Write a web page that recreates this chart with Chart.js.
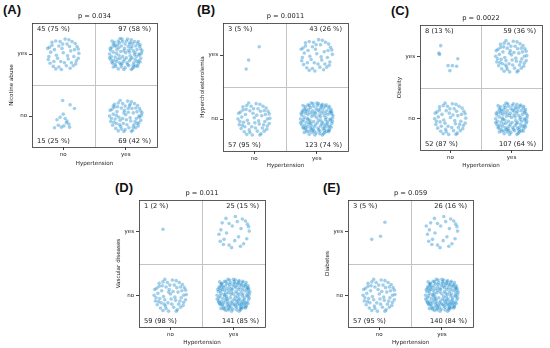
<html><head></head>
<body style="margin:0;background:#fff">
<script src="https://cdn.jsdelivr.net/npm/chart.js"></script>
<div id="wrap" style="position:relative;width:550px;height:348px;overflow:hidden;background:#fff"></div>
<script>
// panel texts
const letters = ['(A)', '(B)', '(C)', '(D)', '(E)'];
const yTitles = ['Nicotine abuse', 'Hypercholesterolemia', 'Obesity', 'Vascular diseases', 'Diabetes'];
const pTexts = ['p = 0.034', 'p = 0.0011', 'p = 0.0022', 'p = 0.011', 'p = 0.059'];
const xTitle = 'Hypertension';
const cats = ['no', 'yes'];

// counts per cell: [x no / y yes, x yes / y yes, x no / y no, x yes / y no]
const countsA = [45, 97, 15, 69];
const countsB = [3, 43, 57, 123];
const countsC = [8, 59, 52, 107];
const countsD = [1, 25, 59, 141];
const countsE = [3, 26, 57, 140];
const pctA = [75, 58, 25, 42];
const pctB = [5, 26, 95, 74];
const pctC = [13, 36, 87, 64];
const pctD = [2, 15, 98, 85];
const pctE = [5, 16, 95, 84];

// jitter offsets (first n used per cell)
const jitter = [
 [0.12,0.05],[-0.18,0.14],[-0.07,-0.21],[0.21,-0.11],[0.03,0.24],[-0.23,-0.04],[-0.15,-0.12],[0.16,-0.19],
 [0.22,0.12],[-0.02,0.09],[-0.11,-0.02],[0.08,-0.08],[0.14,0.20],[-0.20,0.03],[-0.03,-0.25],[0.25,0.01],
 [0.06,0.16],[-0.12,0.21],[-0.21,-0.15],[0.11,-0.23],[0.19,0.17],[-0.07,0.13],[-0.16,-0.20],[0.02,-0.14],
 [0.24,0.08],[-0.25,0.09],[-0.09,-0.07],[0.17,-0.04],[0.00,0.02],[-0.14,0.07],[0.05,-0.19],[0.13,-0.14],
 [0.09,0.23],[-0.05,0.20],[-0.24,-0.09],[0.20,-0.16],[0.18,0.07],[-0.18,0.19],[-0.12,-0.24],[0.07,-0.03],
 [-0.01,0.16],[-0.22,0.11],[-0.04,-0.12],[0.24,-0.07],[0.10,0.12],[-0.09,0.25],[-0.17,-0.05],[0.15,-0.09],
 [0.04,0.06],[-0.26,0.00],[-0.08,-0.17],[0.09,-0.25],[0.21,0.00],[-0.13,0.15],[-0.19,-0.10],[0.01,-0.06],
 [0.16,0.13],[-0.03,0.05],[-0.10,-0.14],[0.22,-0.02],[0.07,0.19],[-0.20,0.16],[-0.05,-0.04],[0.12,-0.18],
 [0.26,0.05],[-0.15,0.01],[-0.01,-0.22],[0.18,-0.12],[0.04,0.12],[-0.11,0.10],[-0.22,-0.13],[0.06,-0.11],
 [0.23,0.15],[-0.06,0.24],[-0.17,-0.17],[0.14,-0.01],[0.11,0.17],[-0.24,0.06],[-0.06,-0.16],[0.19,-0.20],
 [0.01,0.21],[-0.16,0.12],[-0.13,-0.08],[0.10,-0.06],[0.20,0.20],[-0.08,0.04],[-0.20,-0.21],[0.03,-0.17],
 [0.15,0.02],[-0.22,0.21],[-0.02,-0.09],[0.23,-0.13],[0.08,0.09],[-0.10,0.18],[-0.26,-0.06],[0.13,-0.21],
 [0.06,0.03],[-0.14,-0.01],[0.15,0.22],[-0.04,-0.19],[0.25,-0.04],[-0.18,0.09],[0.02,0.14],[-0.12,-0.19],
 [0.10,-0.15],[0.21,0.10],[-0.07,0.08],[-0.21,-0.01],[0.05,-0.23],[0.17,-0.07],[0.00,0.25],[-0.14,0.22],
 [-0.09,-0.11],[0.14,0.09],[-0.23,0.13],[0.03,-0.02],[0.20,-0.18],[-0.18,-0.14],[0.08,0.21],[-0.03,0.11],
 [0.12,-0.11],[-0.11,-0.05],[0.24,0.11],[-0.20,0.07],[0.04,-0.08],[-0.06,0.17],[0.18,0.15],[-0.15,-0.22],
 [0.09,0.01],[-0.01,-0.14],[0.22,0.04],[-0.12,0.03],[0.11,-0.20],[-0.08,-0.23],[0.16,-0.14],[-0.19,0.18],
 [0.02,0.19],[-0.23,-0.11],[0.13,0.16],[0.07,-0.14],[-0.04,0.01]
];
// sparse cells read point by point
const sparseA_noNo = [[-0.01,0.25],[0.11,0.18],[0.18,0.12],[0,0.03],[-0.05,-0.02],[-0.10,-0.06],[0.03,-0.04],
  [0.06,-0.08],[0.09,-0.13],[-0.08,-0.15],[-0.14,-0.19],[0.01,-0.16],[-0.03,-0.18],[0.10,-0.18],[0.05,-0.11]];
const sparseB_noYes = [[0.08,0.13],[-0.09,-0.08],[-0.13,-0.22]];
const sparseC_noYes = [[-0.16,0.17],[-0.19,0.05],[-0.18,0.03],[0.12,-0.04],[-0.04,-0.15],[0.03,-0.15],[0.10,-0.16],[-0.01,-0.23]];
const sparseD_noYes = [[-0.12,0.04]];
const sparseE_noYes = [[0.09,0.15],[0.02,-0.07],[-0.12,-0.12]];

const allCounts = [countsA, countsB, countsC, countsD, countsE];
const allPct = [pctA, pctB, pctC, pctD, pctE];
const sparse = [
  [null, null, sparseA_noNo, null],
  [sparseB_noYes, null, null, null],
  [sparseC_noYes, null, null, null],
  [sparseD_noYes, null, null, null],
  [sparseE_noYes, null, null, null]
];
const cellX = [0, 1, 0, 1];
const cellY = [1, 1, 0, 0];

// layout of each panel: canvas box and plot area inside it
const boxes = [
  {left: 0,   top: 0,   w: 180, h: 169, area: [32, 23, 157, 147]},
  {left: 185, top: 0,   w: 180, h: 171, area: [38, 23, 163, 151]},
  {left: 365, top: 0,   w: 185, h: 171, area: [55, 25, 177, 150]},
  {left: 90,  top: 172, w: 190, h: 176, area: [49, 28, 175, 155]},
  {left: 275, top: 172, w: 200, h: 176, area: [73, 28, 199, 155]}
];
const letterPos = [[3, 2], [197, 2], [391, 3], [115, 180], [323, 180]];

const FONT = "'DejaVu Sans', sans-serif";
const dotColor = 'rgba(30,140,205,0.42)';

const framePlugin = {
  id: 'frame',
  beforeDatasetsDraw(chart) {
    const {ctx, chartArea: a, scales: {x, y}} = chart;
    ctx.save();
    ctx.strokeStyle = '#c4c4c4';
    ctx.lineWidth = 1;
    ctx.beginPath();
    const mx = Math.round(x.getPixelForValue(0.5)) + 0.5;
    const my = Math.round(y.getPixelForValue(0.5)) + 0.5;
    ctx.moveTo(mx, a.top); ctx.lineTo(mx, a.bottom);
    ctx.moveTo(a.left, my); ctx.lineTo(a.right, my);
    ctx.stroke();
    ctx.restore();
  },
  afterDatasetsDraw(chart, args, opts) {
    const {ctx, chartArea: a} = chart;
    ctx.save();
    ctx.strokeStyle = '#333';
    ctx.lineWidth = 0.8;
    ctx.strokeRect(Math.round(a.left) + 0.5, Math.round(a.top) + 0.5,
      Math.round(a.right - a.left), Math.round(a.bottom - a.top));
    ctx.fillStyle = '#222';
    ctx.font = '6.7px ' + FONT;
    ctx.textBaseline = 'middle';
    ctx.textAlign = 'center';
    ctx.fillText(opts.title, (a.left + a.right) / 2, a.top - 6.5);
    const t = opts.cells;
    ctx.textAlign = 'left';
    ctx.fillText(t[0], a.left + 5, a.top + 6.5);
    ctx.fillText(t[2], a.left + 5, a.bottom - 6);
    ctx.textAlign = 'right';
    ctx.fillText(t[1], a.right - 6, a.top + 6.5);
    ctx.fillText(t[3], a.right - 6, a.bottom - 6);
    ctx.restore();
  }
};

const wrap = document.getElementById('wrap');
for (let p = 0; p < 5; p++) {
  const b = boxes[p];
  const lab = document.createElement('div');
  lab.textContent = letters[p];
  lab.style.cssText = 'position:absolute;font:bold 13px "Liberation Sans",Arial,sans-serif;color:#111;left:' +
    letterPos[p][0] + 'px;top:' + letterPos[p][1] + 'px';
  wrap.appendChild(lab);

  const cv = document.createElement('canvas');
  cv.width = b.w; cv.height = b.h;
  cv.style.cssText = 'position:absolute;left:' + b.left + 'px;top:' + b.top + 'px;width:' + b.w + 'px;height:' + b.h + 'px';
  wrap.appendChild(cv);

  const pts = [];
  const counts = allCounts[p];
  for (let c = 0; c < 4; c++) {
    const offs = sparse[p][c] || jitter.slice(0, counts[c]);
    offs.forEach(o => pts.push({x: cellX[c] + o[0], y: cellY[c] + o[1]}));
  }
  const cellText = counts.map((n, i) => n + ' (' + allPct[p][i] + ' %)');
  const a = b.area;

  new Chart(cv, {
    type: 'scatter',
    data: {
      datasets: [{
        data: pts,
        backgroundColor: dotColor,
        borderWidth: 0,
        pointRadius: 1.8,
        pointHoverRadius: 1.8
      }]
    },
    options: {
      responsive: false,
      animation: false,
      events: [],
      layout: {padding: {top: a[1], left: a[0] - 28, right: b.w - a[2], bottom: 0}},
      plugins: {
        legend: {display: false},
        tooltip: {enabled: false},
        frame: {title: pTexts[p], cells: cellText}
      },
      scales: {
        x: {
          type: 'linear', min: -0.5, max: 1.5,
          afterBuildTicks: s => { s.ticks = [{value: 0}, {value: 1}]; },
          afterFit: s => { s.height = b.h - a[3]; },
          ticks: {callback: v => cats[v], font: {family: FONT, size: 5.5}, color: '#222', padding: 1, maxRotation: 0},
          grid: {drawOnChartArea: false, drawTicks: true, tickLength: 3, tickColor: '#444'},
          border: {display: false},
          title: {display: true, text: xTitle, font: {family: FONT, size: 5.6}, color: '#222', padding: {top: 0, bottom: 2}}
        },
        y: {
          type: 'linear', min: -0.5, max: 1.5,
          afterBuildTicks: s => { s.ticks = [{value: 0}, {value: 1}]; },
          afterFit: s => { s.width = 28; },
          ticks: {callback: v => cats[v], font: {family: FONT, size: 5.5}, color: '#222', padding: 2},
          grid: {drawOnChartArea: false, drawTicks: true, tickLength: 3, tickColor: '#444'},
          border: {display: false},
          title: {display: true, text: yTitles[p], font: {family: FONT, size: 5.6}, color: '#222', padding: {top: 4, bottom: 0}}
        }
      }
    },
    plugins: [framePlugin]
  });
}
</script>
</body>
</html>
